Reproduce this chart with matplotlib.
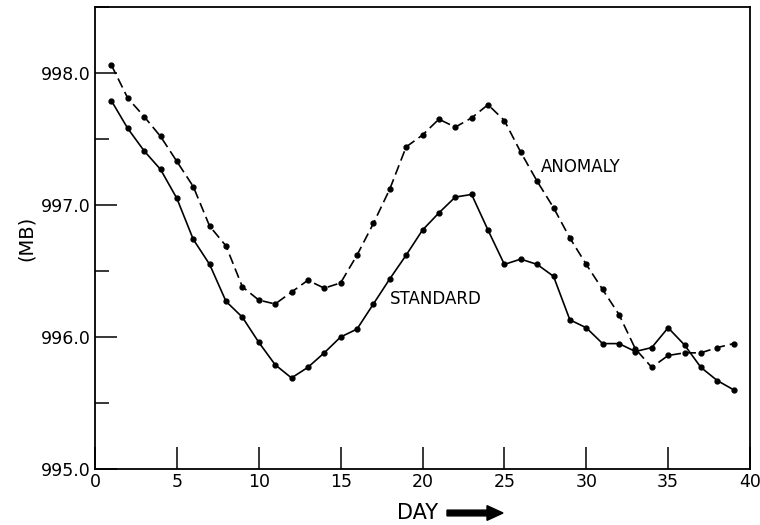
import matplotlib
matplotlib.use("Agg")
import matplotlib.pyplot as plt
from matplotlib.ticker import MultipleLocator

days = list(range(1, 40))
anomaly = [998.06, 997.81, 997.67, 997.52, 997.33, 997.14, 996.84, 996.69, 996.38, 996.28,
           996.25, 996.34, 996.43, 996.37, 996.41, 996.62, 996.86, 997.12, 997.44, 997.53,
           997.65, 997.59, 997.66, 997.76, 997.64, 997.40, 997.18, 996.98, 996.75, 996.55,
           996.36, 996.17, 995.91, 995.77, 995.86, 995.88, 995.88, 995.92, 995.95]
standard = [997.79, 997.58, 997.41, 997.27, 997.05, 996.74, 996.55, 996.27, 996.15, 995.96,
            995.79, 995.69, 995.77, 995.88, 996.00, 996.06, 996.25, 996.44, 996.62, 996.81,
            996.94, 997.06, 997.08, 996.81, 996.55, 996.59, 996.55, 996.46, 996.13, 996.07,
            995.95, 995.95, 995.89, 995.92, 996.07, 995.94, 995.77, 995.67, 995.60]
x_ticks = [0, 5, 10, 15, 20, 25, 30, 35, 40]
y_ticks = [995.0, 996.0, 997.0, 998.0]

plt.rcParams['font.family'] = ['DejaVu Sans']
fig = plt.figure(figsize=(7.6, 5.25), dpi=100)
ax = fig.add_axes([95/760, 1-469/525, (750-95)/760, (469-7)/525])

ax.plot(days, anomaly, color='black', lw=1.2, ls=(0, (6, 3)), marker='o', ms=3.5)
ax.plot(days, standard, color='black', lw=1.2, ls='-', marker='o', ms=3.5)

ax.set_xlim(0, 40)
ax.set_ylim(995.0, 998.5)
ax.set_xticks(x_ticks)
ax.set_xticklabels([str(t) for t in x_ticks], fontsize=12.5)
ax.set_yticks(y_ticks)
ax.set_yticklabels([f"{t:.1f}" for t in y_ticks], fontsize=12.5)
ax.yaxis.set_minor_locator(MultipleLocator(0.5))
ax.tick_params(axis='both', which='major', direction='in', length=16, width=1.1, pad=3)
ax.tick_params(axis='y', which='minor', direction='in', length=10, width=1.1)
for s in ax.spines.values():
    s.set_linewidth(1.3)

ax.set_ylabel("(MB)", fontsize=14, labelpad=4)

ax.text(27.2, 997.29, "ANOMALY", fontsize=12, va='center', ha='left')
ax.text(18.0, 996.29, "STANDARD", fontsize=12, va='center', ha='left')

fig.text(418/760, 1-513/525, "DAY", fontsize=15, ha='center', va='center')
fig.patches.append(matplotlib.patches.FancyArrow(
    447/760, 1-513/525, 56/760, 0, width=0.011, head_width=0.028, head_length=16/760,
    length_includes_head=True, color='black', transform=fig.transFigure, figure=fig))

fig.savefig("out.png", dpi=100)
